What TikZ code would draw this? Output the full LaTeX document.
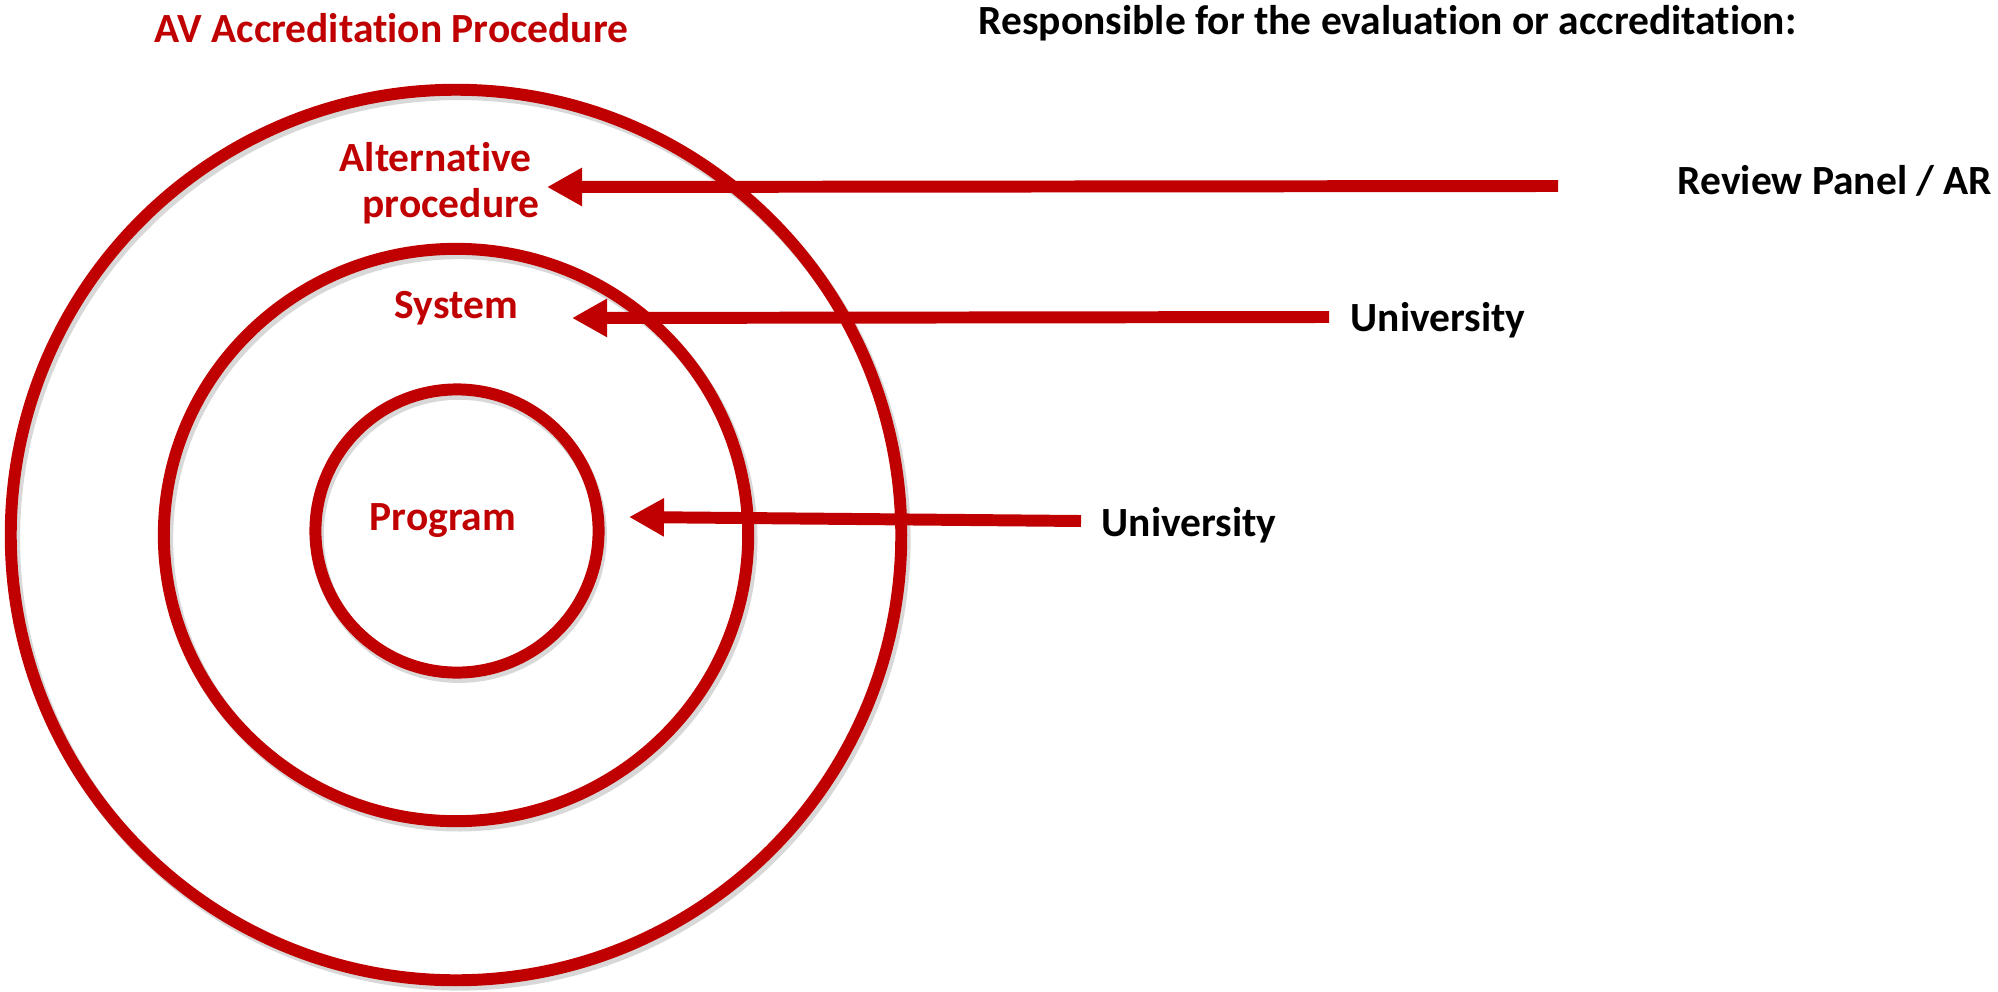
\documentclass[tikz,border=0pt]{standalone}
\usepackage{fontspec}
\setmainfont{Carlito}[Ligatures=NoCommon]
\usetikzlibrary{arrows.meta}
\definecolor{avred}{RGB}{192,0,0}

\tikzset{
  ring/.style={draw=avred, line width=3.4pt},
  ringshade/.style={draw=black!30, line width=3.6pt, opacity=0.5},
  pointer/.style={draw=avred, line width=3.4pt, -{Triangle[length=3.5mm,width=3.6mm]}},
  redlbl/.style={text=avred, font=\fontsize{11.8}{14}\selectfont\bfseries, inner sep=0pt, anchor=base west},
  blklbl/.style={text=black, font=\fontsize{11.8}{14}\selectfont\bfseries, inner sep=0pt, anchor=base west}
}

\begin{document}
\begin{tikzpicture}[x=0.01cm, y=-0.01cm]
				\useasboundingbox (0,0) rectangle (1998,991);
				
				% shadows of the rings
				\draw[ringshade] (459,539) circle [radius=4.45cm];
				\draw[ringshade] (459,539) ellipse [x radius=2.92cm, y radius=2.86cm];
				\draw[ringshade] (459,535) circle [radius=1.415cm];
				
				% the three rings
				\draw[ring] (456,535) circle [radius=4.45cm];
				\draw[ring] (456,535) ellipse [x radius=2.92cm, y radius=2.86cm];
				\draw[ring] (457,531) circle [radius=1.415cm];
				
				\node[redlbl] (title) at (154,43) {AV Accreditation Procedure};
				\node[blklbl] (resp) at (978,35) {Responsible for the evaluation or accreditation:};
				
				\node[redlbl] (altlbl) at (339,172) {Alternative};
				\node[redlbl] (altlbltwo) at (362,217) {procedure};
				\node[redlbl] (syslbl) at (394,318) {System};
				\node[redlbl] (proglbl) at (369,530) {Program};
				
				\node[blklbl, anchor=base east] (panel) at (1993,195) {Review Panel / AR};
				\node[blklbl] (unisys) at (1350,331) {University};
				\node[blklbl] (uniprog) at (1101,536) {University};
				
				\coordinate (alttail) at (1558,186);
				\coordinate (alttip) at (547,187);
				\coordinate (systail) at (1329,317);
				\coordinate (systip) at (572,318);
				\coordinate (progtail) at (1081,521);
				\coordinate (progtip) at (629,517);
				
				\draw[pointer] (alttail) -- (alttip);
				\draw[pointer] (systail) -- (systip);
				\draw[pointer] (progtail) -- (progtip);
			\end{tikzpicture}
\end{document}
